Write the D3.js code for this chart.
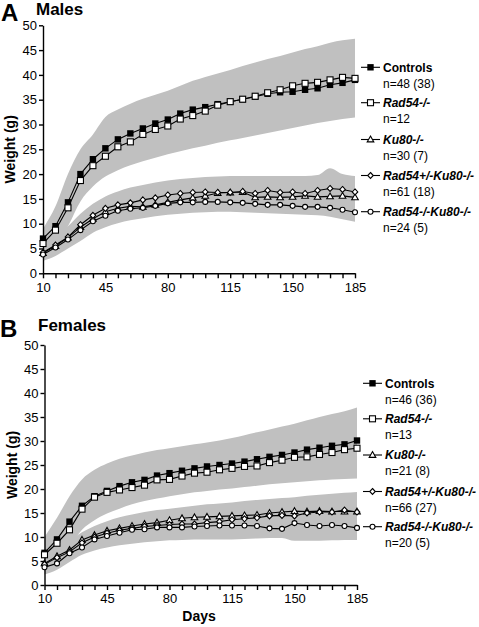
<!DOCTYPE html>
<html><head><meta charset="utf-8">
<script src="https://cdn.jsdelivr.net/npm/d3@7/dist/d3.min.js"></script>
<style>body{margin:0;background:#fff}svg{display:block}text{font-family:"Liberation Sans",Arial,Helvetica,sans-serif}</style>
</head><body>
<script>
// ---------- DATA ----------
const days = [10,17,24,31,38,45,52,59,66,73,80,87,94,101,108,115,122,129,136,143,150,157,164,171,178,185];
const xTickLabels = [10,45,80,115,150,185];
const yTicks = [0,5,10,15,20,25,30,35,40,45,50];

const seriesNames = ["Controls","Rad54-/-","Ku80-/-","Rad54+/-Ku80-/-","Rad54-/-Ku80-/-"];
const seriesMarkers = ["filledSquare","openSquare","triangle","diamond","circle"];
const maleN = ["n=48 (38)","n=12","n=30 (7)","n=61 (18)","n=24 (5)"];
const femaleN = ["n=46 (36)","n=13","n=21 (8)","n=66 (27)","n=20 (5)"];

const maleControls = [7,9.5,14.3,20,23,25.2,27,28.2,29.2,30.2,31,32.2,33,33.5,34.1,34.6,35.1,35.6,36.2,36.5,36.6,37,37.3,38,38.4,39];
const maleRad54 = [6,8.7,13.2,18.7,21.7,23.6,25.5,26.5,28,29,29.7,31.1,31.8,32.7,33.9,34.6,35.1,35.7,36.4,37,37.8,38.3,38.5,39,39.5,39.3];
const maleKu80 = [4.1,5.5,7.2,9.3,11.0,12.4,13.1,13.5,13.4,13.8,14.3,14.8,15.2,15.6,16.2,16.3,16.4,15.3,15.4,15.3,15.4,15.6,15.4,15.5,15.6,15.3];
const maleRad54hetKu80 = [4.2,5.7,7.3,9.8,11.7,13.1,13.8,14.2,14.8,15.2,15.8,16.1,16.3,16.4,16.3,16.3,16.5,16.1,16.7,16.3,16.4,16.1,16.7,17.1,16.9,16.4];
const maleRad54Ku80 = [3.8,5.2,6.8,8.7,10.5,11.6,12.6,13.0,13.2,13.6,14.1,14.3,14.3,14.4,14.4,14.3,14.2,14.0,13.8,13.8,13.6,13.4,13.4,13.2,12.8,12.3];

const femaleControls = [6.7,9.5,13.2,16.5,18.5,19.6,20.6,21.4,21.9,22.8,23.3,23.8,24.3,24.7,25.0,25.3,25.7,26.2,26.7,27.1,27.6,28.2,28.6,29.0,29.3,30.1];
const femaleRad54 = [6.3,8.7,11.5,15.8,18.3,19.3,19.8,20.3,20.8,21.9,22.0,22.7,23.3,23.5,24.0,24.3,24.7,24.8,25.5,26.0,26.6,26.7,27.2,27.6,28.2,28.5];
const femaleKu80 = [4.5,6.0,7.3,9.4,10.4,11.3,11.8,12.3,12.7,13.0,13.5,13.9,14.1,14.2,14.3,14.4,14.5,14.6,15.0,15.2,15.4,15.3,15.4,15.3,15.3,15.3];
const femaleRad54hetKu80 = [4.3,5.7,6.9,8.8,10.0,10.8,11.4,11.8,12.2,12.4,12.6,12.7,12.7,13.0,13.2,13.6,13.8,14.0,14.4,14.5,14.4,15.0,15.2,15.2,15.6,15.2];
const femaleRad54Ku80 = [3.7,4.5,6.6,7.8,9.5,10.2,10.9,11.5,11.6,12.0,12.0,12.0,12.2,12.3,12.4,12.4,12.4,12.3,11.8,11.7,12.9,12.5,12.3,12.5,12.3,11.9];

// grey spread bands (upper edge / lower edge)
const maleUpperBandHi = [9,13.5,20,25,28,31.5,33,34.2,35.2,36,36.8,37.8,38.8,39.6,40.3,41,41.8,42.5,43.2,43.8,44.5,45.2,45.8,46.5,47,47.3];
const maleUpperBandLo = [4,5.5,9.5,14.5,17.5,19.5,20.8,21.8,22.6,23.3,24,24.6,25.2,25.7,26.3,26.8,27.3,27.8,28.3,28.8,29.3,29.8,30.3,30.7,31.1,31.4];
const maleLowerBandHi = [6,7.5,9.5,12,14,15.5,16.5,17.3,17.8,18.3,18.7,19,19.2,19.4,19.5,19.6,19.6,19.6,19.6,19.6,19.6,19.6,19.8,21.2,20,19.6];
const maleLowerBandLo = [2.5,3.5,5,6.5,8.2,9.3,10.1,10.7,11.1,11.5,11.8,12,12.2,12.3,12.4,12.4,12.3,12.2,12.1,12,11.9,11.8,11.7,11.4,10.9,10.4];
const femaleUpperBandHi = [10,14,18.5,22,24,25.3,26.3,27,27.6,28.1,28.5,28.9,29.3,29.7,30.1,30.6,31.2,31.8,32.4,33,33.6,34.3,35,35.6,36.2,37];
const femaleUpperBandLo = [4,5.5,8,11.5,13.5,14.9,15.9,16.8,17.5,18,18.5,18.9,19.3,19.6,19.9,20.1,20.4,20.7,21,21.2,21.4,21.6,21.8,22,22.1,22.2];
const femaleLowerBandHi = [6,7.5,9.3,11,12.3,13.3,14.1,14.7,15.2,15.6,15.9,16.2,16.5,16.8,17,17.2,17.5,17.7,17.9,18.1,18.3,18.6,18.8,19,19.2,19.4];
const femaleLowerBandLo = [2.2,3.2,4.8,6.3,7.2,7.8,8.3,8.6,8.9,9.1,9.3,9.4,9.5,9.5,9.5,9.5,9.6,9.7,9.8,9.8,9.2,9.2,9.2,9.3,9.4,9.4];

// ---------- DRAW ----------
const W = 479, H = 627;
const svg = d3.select("body").append("svg").attr("width", W).attr("height", H);
svg.append("rect").attr("width", W).attr("height", H).attr("fill", "#fff");

const BAND = "#c0c0c0";

function drawMarker(g, type, cx, cy) {
  if (type === "filledSquare") {
    g.append("rect").attr("x", cx-3.2).attr("y", cy-3.2).attr("width", 6.4).attr("height", 6.4).attr("fill", "#000");
  } else if (type === "openSquare") {
    g.append("rect").attr("x", cx-3).attr("y", cy-3).attr("width", 6).attr("height", 6).attr("fill", "#fff").attr("stroke", "#000").attr("stroke-width", 1.1);
  } else if (type === "triangle") {
    g.append("path").attr("d", `M${cx},${cy-3.4}L${cx+3.3},${cy+2.4}L${cx-3.3},${cy+2.4}Z`).attr("fill", "#fff").attr("stroke", "#000").attr("stroke-width", 1.1);
  } else if (type === "diamond") {
    g.append("path").attr("d", `M${cx},${cy-3}L${cx+2.8},${cy}L${cx},${cy+3}L${cx-2.8},${cy}Z`).attr("fill", "#fff").attr("stroke", "#000").attr("stroke-width", 1.1);
  } else {
    g.append("circle").attr("cx", cx).attr("cy", cy).attr("r", 2.5).attr("fill", "#fff").attr("stroke", "#000").attr("stroke-width", 1.1);
  }
}

function panel(cfg) {
  const x = d3.scaleLinear().domain([10,185]).range(cfg.xr);
  const y = d3.scaleLinear().domain([0,50]).range(cfg.yr);
  const g = svg.append("g");

  // bands
  const area = d3.area().x((d,i)=>x(days[i])).y0(d=>y(d[0])).y1(d=>y(d[1])).curve(d3.curveMonotoneX);
  cfg.bands.forEach(b => {
    g.append("path").datum(b[0].map((v,i)=>[b[1][i], v])).attr("d", area).attr("fill", BAND);
  });

  // axes
  const ya = d3.axisLeft(y).tickValues(yTicks).tickSize(4).tickSizeOuter(0).tickPadding(2);
  const yg = g.append("g").attr("transform", `translate(${cfg.xr[0]},0)`).call(ya);
  const xa = d3.axisBottom(x).tickValues(days).tickSize(5).tickSizeOuter(0).tickPadding(4)
    .tickFormat(d => xTickLabels.includes(d) ? d : "");
  const xg = g.append("g").attr("transform", `translate(0,${cfg.yr[0]})`).call(xa);
  [yg, xg].forEach(a => {
    a.selectAll("path,line").attr("stroke", "#000").attr("stroke-width", 1.4);
    a.selectAll("text").attr("font-size", 13).attr("fill", "#000");
  });

  // series
  const line = d3.line().x((d,i)=>x(days[i])).y(d=>y(d));
  cfg.series.forEach((s, k) => {
    const sg = g.append("g");
    sg.append("path").datum(s).attr("d", line).attr("fill", "none").attr("stroke", "#000").attr("stroke-width", 1.1);
    s.forEach((v,i) => drawMarker(sg, seriesMarkers[k], x(days[i]), y(v)));
  });

  // legend
  const lg = g.append("g");
  seriesNames.forEach((name, k) => {
    const cy = cfg.legY[k];
    lg.append("line").attr("x1", cfg.legX).attr("x2", cfg.legX+19).attr("y1", cy).attr("y2", cy).attr("stroke", "#000").attr("stroke-width", 1.1);
    drawMarker(lg, seriesMarkers[k], cfg.legX+9.5, cy);
    lg.append("text").attr("x", cfg.legX+22).attr("y", cy).attr("dy", "0.36em")
      .attr("font-size", 12).attr("font-weight", "bold").attr("font-style", k === 0 ? "normal" : "italic").text(name);
    lg.append("text").attr("x", cfg.legX+22).attr("y", cy+16).attr("dy", "0.36em")
      .attr("font-size", 12).text(cfg.nLabels[k]);
  });

  // titles
  svg.append("text").attr("x", cfg.letterX).attr("y", cfg.letterY).attr("font-size", 24).attr("font-weight", "bold").text(cfg.letter);
  svg.append("text").attr("x", cfg.titleX).attr("y", cfg.titleY).attr("font-size", 17).attr("font-weight", "bold").text(cfg.title);
  svg.append("text").attr("transform", `translate(${cfg.ylabX},${y(25)}) rotate(-90)`).attr("text-anchor", "middle").attr("dy", "0.36em")
    .attr("font-size", 14).attr("font-weight", "bold").text("Weight (g)");
  return {x, y};
}

panel({
  xr: [43, 355], yr: [273.3, 25.3],
  bands: [[maleUpperBandHi, maleUpperBandLo], [maleLowerBandHi, maleLowerBandLo]],
  series: [maleControls, maleRad54, maleKu80, maleRad54hetKu80, maleRad54Ku80],
  legX: 361, legY: [67.3, 102.7, 139.5, 175.5, 211.7], nLabels: maleN,
  letter: "A", letterX: 1, letterY: 21, title: "Males", titleX: 36, titleY: 14.5, ylabX: 9.5
});
panel({
  xr: [44.5, 357], yr: [585, 345],
  bands: [[femaleUpperBandHi, femaleUpperBandLo], [femaleLowerBandHi, femaleLowerBandLo]],
  series: [femaleControls, femaleRad54, femaleKu80, femaleRad54hetKu80, femaleRad54Ku80],
  legX: 363, legY: [383.3, 418.8, 455, 491.5, 526.7], nLabels: femaleN,
  letter: "B", letterX: 0, letterY: 337, title: "Females", titleX: 38, titleY: 331, ylabX: 12
});
svg.append("text").attr("x", 199).attr("y", 621).attr("text-anchor", "middle").attr("font-size", 14).attr("font-weight", "bold").text("Days");
</script>
</body></html>
